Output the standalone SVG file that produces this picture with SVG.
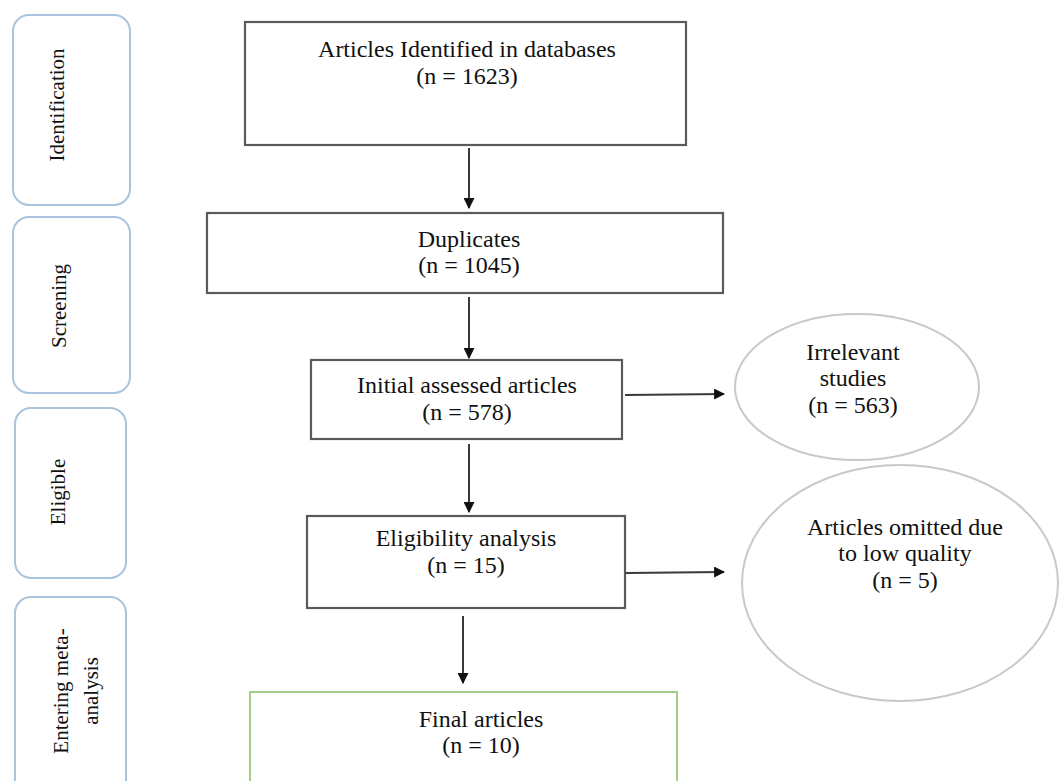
<svg xmlns="http://www.w3.org/2000/svg" width="1059" height="781" viewBox="0 0 1059 781">
<style>
.bg{fill:#ffffff}
.side{fill:#ffffff;stroke:#a9c4de;stroke-width:2}
.box{fill:#ffffff;stroke:#5a5a5a;stroke-width:2.2}
.fin{fill:#ffffff;stroke:#a3cc8a;stroke-width:2}
.ell{fill:#ffffff;stroke:#c9c9c9;stroke-width:2}
.t{font-family:"Liberation Serif","Times New Roman",serif;font-size:24px;fill:#111111;text-anchor:middle}
.s{font-family:"Liberation Serif","Times New Roman",serif;font-size:21px;fill:#111111;text-anchor:middle}
.c{stroke:#3a3a3a;stroke-width:2;fill:none;marker-end:url(#ah)}
</style>
<defs>
<marker id="ah" viewBox="0 0 10 10" refX="9" refY="5" markerWidth="5.5" markerHeight="5.5" markerUnits="strokeWidth" orient="auto">
<path d="M0,0 L10,5 L0,10 z" fill="#111111"/>
</marker>
</defs>
<rect class="bg" x="0" y="0" width="1059" height="781"/>

<g id="side-identification">
<rect class="side" x="13" y="15" width="117" height="190" rx="16"/>
<text class="s" transform="translate(64,105) rotate(-90)">Identification</text>
</g>
<g id="side-screening">
<rect class="side" x="13" y="217" width="117" height="176" rx="16"/>
<text class="s" transform="translate(66,306) rotate(-90)">Screening</text>
</g>
<g id="side-eligible">
<rect class="side" x="15" y="408" width="111" height="170" rx="16"/>
<text class="s" transform="translate(65,492) rotate(-90)">Eligible</text>
</g>
<g id="side-entering">
<rect class="side" x="15" y="597" width="111" height="200" rx="16"/>
<text class="s" transform="translate(68,691) rotate(-90)">Entering meta-</text>
<text class="s" transform="translate(98,691) rotate(-90)">analysis</text>
</g>

<g id="connectors">
<line class="c" x1="469" y1="148" x2="469" y2="208"/>
<line class="c" x1="469" y1="297" x2="469" y2="358"/>
<line class="c" x1="469" y1="444" x2="469" y2="512"/>
<line class="c" x1="463" y1="616" x2="463" y2="683"/>
<line class="c" x1="625" y1="395" x2="724" y2="394"/>
<line class="c" x1="626" y1="573" x2="724" y2="572"/>
</g>

<g id="box-identified">
<rect class="box" x="245" y="22" width="441" height="123"/>
<text class="t" x="467" y="57">Articles Identified in databases</text>
<text class="t" x="467" y="84">(n = 1623)</text>
</g>
<g id="box-duplicates">
<rect class="box" x="207" y="213" width="516" height="80"/>
<text class="t" x="469" y="247">Duplicates</text>
<text class="t" x="469" y="273">(n = 1045)</text>
</g>
<g id="box-initial">
<rect class="box" x="311" y="360" width="311" height="79"/>
<text class="t" x="467" y="393">Initial assessed articles</text>
<text class="t" x="467" y="420">(n = 578)</text>
</g>
<g id="box-eligibility">
<rect class="box" x="307" y="516" width="318" height="92"/>
<text class="t" x="466" y="546">Eligibility analysis</text>
<text class="t" x="466" y="573">(n = 15)</text>
</g>
<g id="box-final">
<rect class="fin" x="250" y="692" width="427" height="110"/>
<text class="t" x="481" y="727">Final articles</text>
<text class="t" x="481" y="753">(n = 10)</text>
</g>
<g id="ellipse-irrelevant">
<ellipse class="ell" cx="857" cy="387" rx="122" ry="73"/>
<text class="t" x="853" y="360">Irrelevant</text>
<text class="t" x="853" y="386">studies</text>
<text class="t" x="853" y="413">(n = 563)</text>
</g>
<g id="ellipse-omitted">
<ellipse class="ell" cx="900" cy="583" rx="158" ry="118"/>
<text class="t" x="905" y="535">Articles omitted due</text>
<text class="t" x="905" y="561">to low quality</text>
<text class="t" x="905" y="588">(n = 5)</text>
</g>
</svg>
